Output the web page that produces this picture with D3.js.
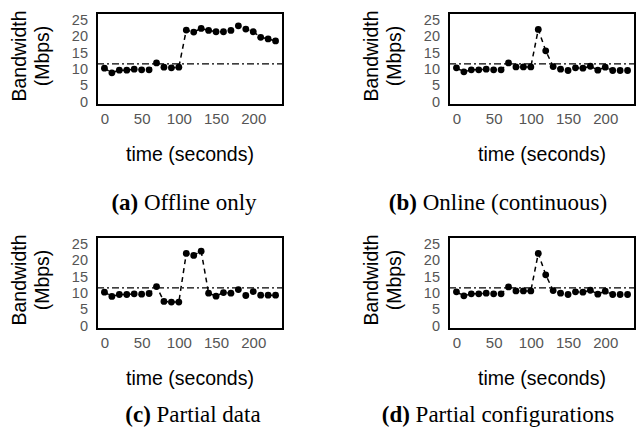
<!DOCTYPE html>
<html><head><meta charset="utf-8">
<script src="https://cdn.jsdelivr.net/npm/d3@7"></script>
<style>
html,body{margin:0;padding:0;background:#fff;}
svg{display:block;}
</style></head>
<body>
<svg id="chart" width="636" height="431"></svg>
<script>
const times = [0,10,20,30,40,50,60,70,80,90,100,110,120,130,140,150,160,170,180,190,200,210,220,230];
const offlineOnly = [10.2,8.8,9.6,9.6,9.9,9.7,9.7,11.8,10.5,10.3,10.5,21.8,21.2,22.3,21.7,21.3,21.3,21.7,23.1,22.1,21.3,19.6,19.1,18.5];
const onlineContinuous = [10.3,9.1,9.7,9.7,9.9,9.7,9.7,11.8,10.6,10.6,10.6,22.0,15.5,10.7,9.9,9.5,10.3,10.2,10.8,9.6,10.5,9.5,9.5,9.5];
const partialData = [10.2,8.9,9.5,9.5,9.7,9.6,9.8,11.9,7.4,7.2,7.2,22.0,21.4,22.7,9.9,9.0,10.1,9.9,11.0,9.2,10.4,9.3,9.3,9.3];
const partialConfigs = [10.3,9.1,9.7,9.7,9.9,9.7,9.7,11.8,10.6,10.6,10.6,22.0,15.5,10.7,9.9,9.5,10.3,10.2,10.8,9.6,10.5,9.5,9.5,9.5];
const threshold = 11.5;
const xTicks = [0,50,100,150,200];
const yTicks = [0,5,10,15,20,25];
const captionLetters = ["(a)","(b)","(c)","(d)"];
const captionTexts = ["Offline only","Online (continuous)","Partial data","Partial configurations"];
const yLabelLines = ["Bandwidth","(Mbps)"];
const xLabel = "time (seconds)";

const panels = [
  {series: offlineOnly, left: 97, top: 13, capX: 184, capY: 210},
  {series: onlineContinuous, left: 449, top: 13, capX: 498, capY: 210},
  {series: partialData, left: 97, top: 237, capX: 193, capY: 422},
  {series: partialConfigs, left: 449, top: 237, capX: 498, capY: 422}
];
const W = 186, H = 92;
const svg = d3.select("#chart");
const sans = "Liberation Sans, Arial, Helvetica, sans-serif";
const serif = "Liberation Serif, Times New Roman, serif";

panels.forEach((p, i) => {
  const g = svg.append("g").attr("transform", `translate(${p.left},${p.top})`);
  const x = d3.scaleLinear().domain([-10, 240]).range([0, W]);
  const y = d3.scaleLinear().domain([-1, 27]).range([H, 0]);

  const xa = g.append("g").attr("transform", `translate(0,${H})`)
    .call(d3.axisBottom(x).tickValues(xTicks).tickSize(0).tickPadding(8));
  xa.select(".domain").remove();
  xa.selectAll("text").attr("font-family", sans).attr("font-size", 15).attr("fill", "#555");

  const ya = g.append("g")
    .call(d3.axisLeft(y).tickValues(yTicks).tickSize(0).tickPadding(9));
  ya.select(".domain").remove();
  ya.selectAll("text").attr("font-family", sans).attr("font-size", 14.5).attr("fill", "#555");

  g.append("line").attr("x1", 0).attr("x2", W)
    .attr("y1", y(threshold)).attr("y2", y(threshold))
    .attr("stroke", "#000").attr("stroke-width", 1.3).attr("stroke-dasharray", "7,3,2,3");

  const data = times.map((t, k) => ({t, v: p.series[k]}));
  g.append("path").datum(data)
    .attr("d", d3.line().x(d => x(d.t)).y(d => y(d.v)))
    .attr("fill", "none").attr("stroke", "#000").attr("stroke-width", 1.5)
    .attr("stroke-dasharray", "5,4");
  g.selectAll("circle").data(data).join("circle")
    .attr("cx", d => x(d.t)).attr("cy", d => y(d.v)).attr("r", 3.4).attr("fill", "#000");

  g.append("rect").attr("x", 0).attr("y", 0).attr("width", W).attr("height", H)
    .attr("fill", "none").attr("stroke", "#000").attr("stroke-width", 2);

  yLabelLines.forEach((txt, j) => {
    g.append("text")
      .attr("transform", `translate(${j === 0 ? -71 : -48},${H/2 - 3}) rotate(-90)`)
      .attr("text-anchor", "middle")
      .attr("font-family", sans).attr("font-size", 19.5).attr("fill", "#000")
      .text(txt);
  });
  g.append("text").attr("x", W/2).attr("y", H + 56)
    .attr("text-anchor", "middle").attr("font-family", sans).attr("font-size", 19.5)
    .attr("fill", "#000").text(xLabel);

  const cap = svg.append("text").attr("x", p.capX).attr("y", p.capY)
    .attr("text-anchor", "middle").attr("font-family", serif).attr("font-size", 23).attr("fill", "#000");
  cap.append("tspan").attr("font-weight", "bold").text(captionLetters[i]);
  cap.append("tspan").text(" " + captionTexts[i]);
});
</script>
</body></html>
